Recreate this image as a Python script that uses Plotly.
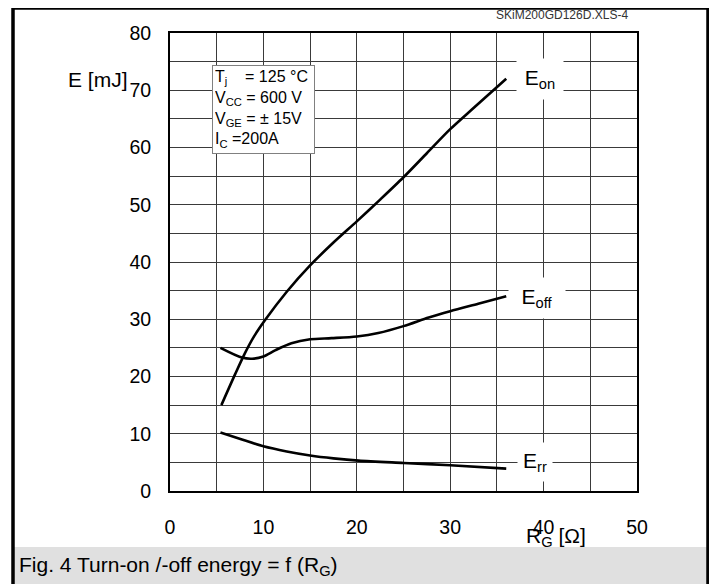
import plotly.graph_objects as go

# ---- data ----
eon_rg = [5.5, 7.0, 8.0, 9.0, 10.2, 12.5, 15.0, 17.5, 20.0, 22.5, 25.0, 27.5, 30.0, 32.5, 36.0]
eon_e = [15.0, 20.5, 24.0, 27.0, 29.9, 34.8, 39.4, 43.4, 47.1, 50.9, 54.8, 59.0, 63.2, 66.9, 72.0]

eoff_rg = [5.4, 7.7, 8.8, 10.0, 11.3, 13.0, 15.0, 17.3, 20.0, 22.3, 25.0, 27.7, 30.0, 33.0, 36.0]
eoff_e = [25.0, 23.3, 23.1, 23.5, 24.6, 25.8, 26.5, 26.7, 27.0, 27.6, 28.8, 30.3, 31.4, 32.7, 34.0]

err_rg = [5.4, 7.7, 10.0, 12.5, 15.0, 17.5, 20.2, 25.0, 30.0, 36.0]
err_e = [10.2, 9.0, 7.8, 6.9, 6.2, 5.7, 5.3, 4.9, 4.5, 3.9]

x_ticks = [0, 10, 20, 30, 40, 50]
y_ticks = [0, 10, 20, 30, 40, 50, 60, 70, 80]

VW, VH = 717, 584          # browser viewport
OFF = 8                    # page body margin
W, H = VW - OFF, VH - OFF  # figure size
L, R, T, B = 170, 637, 33, 491  # plot area in screen pixels


def px(x):
    return (x - L) / (R - L)


def py(y):
    return (B - y) / (B - T)


FONT = "Liberation Sans, Arial, sans-serif"

fig = go.Figure()
for xs, ys in [(eon_rg, eon_e), (eoff_rg, eoff_e), (err_rg, err_e)]:
    fig.add_trace(go.Scatter(x=xs, y=ys, mode="lines",
                             line=dict(color="black", width=2.6, shape="spline", smoothing=0.8),
                             showlegend=False, hoverinfo="skip"))

grid = dict(showgrid=True, gridcolor="#3a3a3a", gridwidth=1)
fig.update_xaxes(range=[0, 50], tickvals=x_ticks, ticks="", ticklabelstandoff=18,
                 showline=True, mirror=True, linecolor="black", linewidth=2,
                 zeroline=False, minor=dict(dtick=5, **grid), **grid,
                 tickfont=dict(size=19.5, color="black", family=FONT))
fig.update_yaxes(range=[0, 80], tickvals=y_ticks, ticks="", ticklabelstandoff=13,
                 showline=True, mirror=True, linecolor="black", linewidth=2,
                 zeroline=False, minor=dict(dtick=5, **grid), **grid,
                 tickfont=dict(size=19.5, color="black", family=FONT))

shapes = [
    dict(type="rect", xref="paper", yref="paper", x0=px(14), x1=px(707), y0=py(600), y1=py(547),
         fillcolor="#e0e0e0", line=dict(width=0), layer="below"),
    dict(type="rect", xref="paper", yref="paper", x0=px(13), x1=px(708), y0=py(620), y1=py(8),
         fillcolor="rgba(0,0,0,0)", line=dict(color="black", width=3.5), layer="above"),
]

ann = []


def a(text, x, y, size=18, xanchor="center", yanchor="middle", **kw):
    ann.append(dict(text=text, xref="paper", yref="paper", x=px(x), y=py(y),
                    xanchor=xanchor, yanchor=yanchor, showarrow=False,
                    font=dict(size=size, color=kw.pop("color", "black"), family=FONT), **kw))


a("SKiM200GD126D.XLS-4", 630, 15, size=12, xanchor="right", color="#333333")
a("E [mJ]", 66, 79, size=21, xanchor="left")
a("R<sub>G</sub> [Ω]", 524, 537, size=21, xanchor="left")
a("Fig. 4 Turn-on /-off energy = f (R<sub>G</sub>)", 17, 566, size=21, xanchor="left")

a("T<sub>j</sub>\u00a0\u00a0\u00a0 = 125 °C<br>V<sub>CC</sub> = 600 V<br>V<sub>GE</sub> = ± 15V<br>I<sub>C</sub> =200A",
  212, 65, size=16, xanchor="left", yanchor="top", align="left", valign="top",
  bgcolor="white", bordercolor="#808080", borderwidth=1, borderpad=2, width=97, height=83)

a("E<sub>on</sub>", 540, 79, size=21, bgcolor="white", width=46, height=40, borderpad=0)
a("E<sub>off</sub>", 537, 298, size=21, bgcolor="white", width=56, height=40, borderpad=0)
a("E<sub>rr</sub>", 535, 462, size=21, bgcolor="white", width=34, height=38, borderpad=0)

fig.update_layout(width=W, height=H,
                  margin=dict(l=L - OFF, r=VW - R, t=T - OFF, b=VH - B),
                  paper_bgcolor="white", plot_bgcolor="white",
                  shapes=shapes, annotations=ann, font=dict(family=FONT))

fig.write_html("out.html")
